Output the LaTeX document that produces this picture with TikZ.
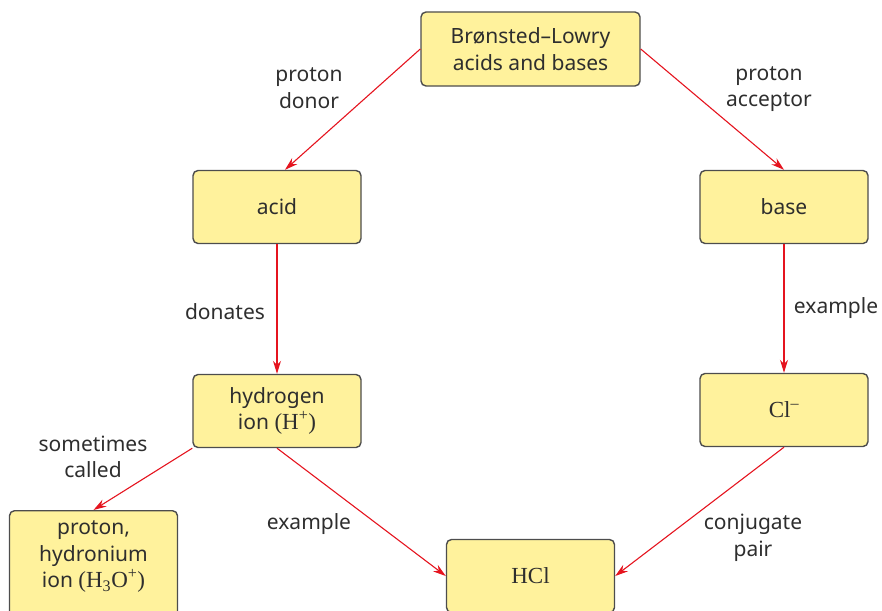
\documentclass[tikz,border=0pt]{standalone}
\usepackage{fontspec}
\setmainfont{Noto Sans}
\newfontfamily\chemfont{Liberation Serif}
\usetikzlibrary{arrows.meta}

\definecolor{boxfill}{HTML}{FFF29C}
\definecolor{boxline}{HTML}{4D4D4D}
\definecolor{linkred}{HTML}{E5141F}
\definecolor{txtgray}{HTML}{2E2E2E}

\tikzset{
  box/.style={draw=boxline,line width=1.4pt,fill=boxfill,rounded corners=5pt,
    minimum width=168pt,minimum height=73pt,align=center,text=txtgray},
  link/.style={draw=linkred,line width=1.1pt,-{Stealth[length=13pt,width=8pt]}},
  lbl/.style={text=txtgray,align=center}
}
\newcommand{\chem}[1]{{\chemfont\fontsize{23}{27}\selectfont #1}}

\begin{document}
\begin{tikzpicture}[x=1pt,y=-1pt,font=\fontsize{21}{26.5}\selectfont]
\useasboundingbox (0,0) rectangle (882,610);
% boxes
\node[box,minimum width=219pt,minimum height=74pt] (bl) at (530.5,49) {Brønsted–Lowry\\acids and bases};
\node[box] (acid) at (277,207) {acid};
\node[box] (base) at (784,207) {base};
\node[box] (hion) at (277,411) {hydrogen\\ion \chem{(H\textsuperscript{+})}};
\node[box] (clion) at (784,410) {\chem{Cl\textsuperscript{–}}};
\node[box,minimum height=120pt,anchor=north] (hydro) at (93.5,510) {};
\node[lbl] (hydrotxt) at (93.5,557) {proton,\\hydronium\\ion \chem{(H\textsubscript{3}O\textsuperscript{+})}};
\node[box] (hcl) at (530.5,576) {\chem{HCl}};
% connectors
\draw[link] (bl.west) -- ([xshift=8pt]acid.north);
\draw[link] (bl.east) -- (base.north);
\draw[link] (acid) -- (hion);
\draw[link] (base) -- (clion);
\draw[link] (hion.south west) -- (hydro.north);
\draw[link] (hion.south) -- (hcl.west);
\draw[link] (clion.south) -- (hcl.east);
% labels
\node[lbl] (ldonor) at (309,88) {proton\\donor};
\node[lbl] (lacceptor) at (769,89) {proton\\acceptor};
\node[lbl] (ldonates) at (225,312) {donates};
\node[lbl] (lexright) at (836,308) {example};
\node[lbl] (lcalled) at (93,457) {sometimes\\called};
\node[lbl] (lexleft) at (309,524) {example};
\node[lbl] (lpair) at (753,538) {conjugate\\pair};
\end{tikzpicture}
\end{document}
